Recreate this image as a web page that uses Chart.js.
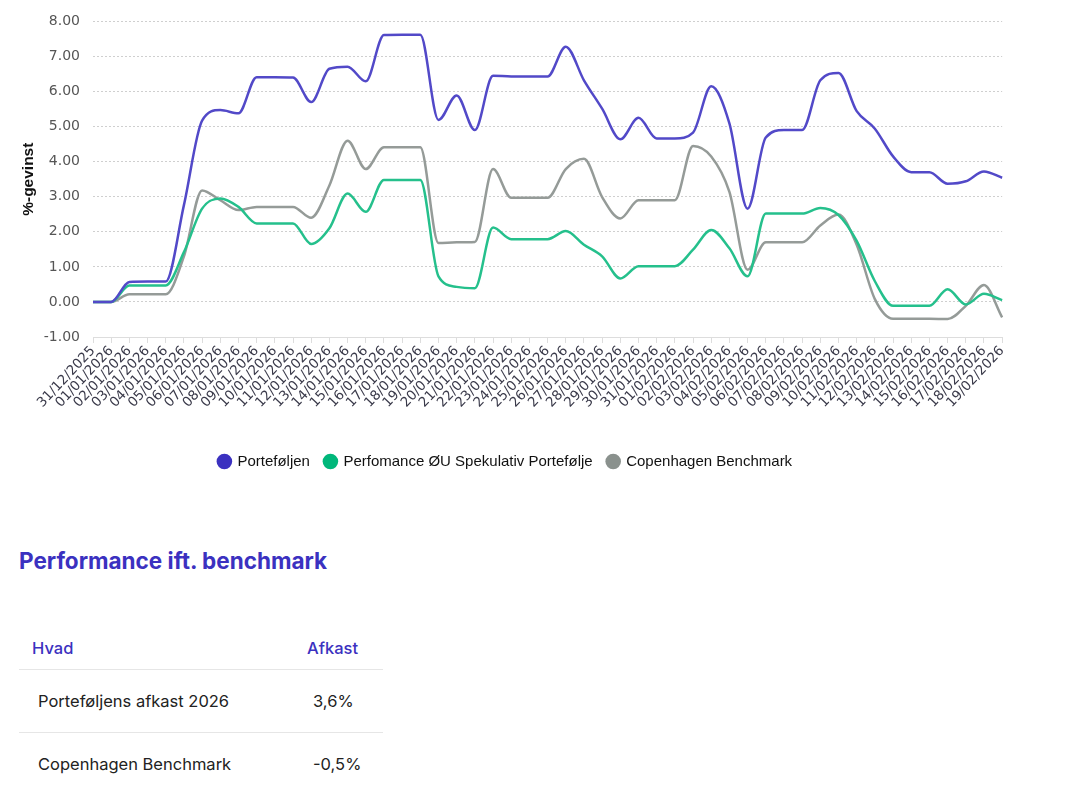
<!DOCTYPE html>
<html>
<head>
<meta charset="utf-8">
<script src="https://cdn.jsdelivr.net/npm/chart.js@4/dist/chart.umd.min.js"></script>
<style>
  html, body { margin: 0; padding: 0; background: #fff; }
  #wrap { position: absolute; left: 0; top: 0; width: 1014px; height: 490px; }
  #title { position: absolute; left: 19px; top: 547px; font-family: Inter, sans-serif; font-weight: 700; font-size: 22.5px; color: #3b31c0; margin: 0; }
  table { position: absolute; left: 19px; top: 627px; width: 364px; border-collapse: collapse; font-family: Inter, sans-serif; table-layout: fixed; }
  col.a { width: 275px; }
  col.b { width: 89px; }
  th { font-weight: 500; color: #3b31c0; font-size: 16.5px; height: 42px; text-align: left; padding: 0 0 0 13px; border-bottom: 1px solid #e6e6e6; }
  td { font-size: 16.5px; color: #222; height: 62px; padding: 0 0 0 19px; border-bottom: 1px solid #e6e6e6; }
  tr:last-child td { border-bottom: none; }
</style>
</head>
<body>
<div id="wrap"><canvas id="c"></canvas></div>
<h2 id="title">Performance ift. benchmark</h2>
<table>
  <colgroup><col class="a"><col class="b"></colgroup>
  <tr><th>Hvad</th><th>Afkast</th></tr>
  <tr><td>Porteføljens afkast 2026</td><td>3,6%</td></tr>
  <tr><td>Copenhagen Benchmark</td><td>-0,5%</td></tr>
</table>
<script>
const labels = ["31/12/2025","01/01/2026","02/01/2026","03/01/2026","04/01/2026","05/01/2026","06/01/2026","07/01/2026","08/01/2026","09/01/2026","10/01/2026","11/01/2026","12/01/2026","13/01/2026","14/01/2026","15/01/2026","16/01/2026","17/01/2026","18/01/2026","19/01/2026","20/01/2026","21/01/2026","22/01/2026","23/01/2026","24/01/2026","25/01/2026","26/01/2026","27/01/2026","28/01/2026","29/01/2026","30/01/2026","31/01/2026","01/02/2026","02/02/2026","03/02/2026","04/02/2026","05/02/2026","06/02/2026","07/02/2026","08/02/2026","09/02/2026","10/02/2026","11/02/2026","12/02/2026","13/02/2026","14/02/2026","15/02/2026","16/02/2026","17/02/2026","18/02/2026","19/02/2026"];

const portefoljen = [0,0,0.57,0.58,0.58,2.76,5.17,5.47,5.38,6.41,6.41,6.40,5.70,6.65,6.71,6.29,7.61,7.62,7.62,5.19,5.89,4.90,6.45,6.43,6.43,6.43,7.28,6.32,5.51,4.64,5.25,4.66,4.66,4.83,6.15,5.09,2.66,4.69,4.90,4.90,6.32,6.53,5.44,4.94,4.15,3.70,3.70,3.37,3.44,3.72,3.54];

const oeu = [0,0,0.47,0.47,0.47,1.42,2.66,2.95,2.71,2.24,2.24,2.24,1.65,2.10,3.09,2.57,3.48,3.48,3.48,0.73,0.43,0.39,2.12,1.79,1.79,1.79,2.02,1.63,1.30,0.67,1.02,1.02,1.02,1.49,2.05,1.53,0.73,2.52,2.52,2.52,2.68,2.48,1.74,0.59,-0.11,-0.11,-0.11,0.36,-0.07,0.23,0.05];

const benchmark = [0,0,0.22,0.22,0.22,1.30,3.18,2.90,2.62,2.71,2.71,2.71,2.40,3.32,4.60,3.79,4.41,4.41,4.41,1.68,1.70,1.71,3.79,2.97,2.97,2.97,3.79,4.08,2.99,2.38,2.90,2.90,2.90,4.45,4.15,3.14,0.92,1.70,1.70,1.70,2.18,2.49,1.63,0.08,-0.48,-0.48,-0.48,-0.49,-0.11,0.48,-0.44];

const yTicks = [-1,0,1,2,3,4,5,6,7,8];
const legendColors = ['#3b31c0', '#00b77a', '#8a918d'];

new Chart(document.getElementById('c'), {
  type: 'line',
  data: {
    labels: labels,
    datasets: [
      { label: 'Porteføljen', data: portefoljen, borderColor: '#5249c8', backgroundColor: '#3b31c0', borderWidth: 2.5, pointRadius: 0, cubicInterpolationMode: 'monotone' },
      { label: 'Perfomance ØU Spekulativ Portefølje', data: oeu, borderColor: '#25c08c', backgroundColor: '#00b77a', borderWidth: 2.5, pointRadius: 0, cubicInterpolationMode: 'monotone' },
      { label: 'Copenhagen Benchmark', data: benchmark, borderColor: '#959b98', backgroundColor: '#8a918d', borderWidth: 2.5, pointRadius: 0, cubicInterpolationMode: 'monotone' }
    ]
  },
  options: {
    responsive: true,
    maintainAspectRatio: false,
    animation: false,
    layout: { padding: { top: 4, right: 3, left: 0, bottom: 11 } },
    plugins: {
      legend: {
        position: 'bottom',
        labels: {
          usePointStyle: true,
          pointStyle: 'circle',
          boxWidth: 11,
          boxHeight: 11,
          padding: 15,
          color: '#111',
          font: { family: "'Liberation Sans', Arial, sans-serif", size: 15 },
          generateLabels: (chart) => {
            const items = Chart.defaults.plugins.legend.labels.generateLabels(chart);
            items.forEach((it, i) => { it.fillStyle = legendColors[i]; it.strokeStyle = legendColors[i]; it.lineWidth = 0; });
            return items;
          }
        }
      },
      tooltip: { enabled: false }
    },
    scales: {
      x: {
        afterFit: (scale) => { scale.height = 102; },
        grid: { drawOnChartArea: false, drawTicks: true, tickLength: 6, color: '#dddddd' },
        border: { display: true, color: '#dddddd' },
        ticks: { autoSkip: false, maxRotation: 47, minRotation: 47, color: '#3a3a4a', font: { family: "'DejaVu Sans', sans-serif", size: 13.5 }, padding: 0 }
      },
      y: {
        min: -1,
        max: 8,
        afterFit: (scale) => { scale.width = 93; },
        afterBuildTicks: (axis) => { axis.ticks = yTicks.map(v => ({ value: v })); },
        title: { display: true, text: '%-gevinst', color: '#111', font: { family: "'Liberation Sans', Arial, sans-serif", size: 15.5, weight: 'bold' }, padding: { top: 19, bottom: 4 } },
        grid: { color: '#cfcfcf', drawTicks: false },
        border: { display: false, dash: [2, 2] },
        ticks: { color: '#555', font: { family: "'DejaVu Sans', sans-serif", size: 14 }, padding: 13, callback: (v) => Number(v).toFixed(2) }
      }
    }
  }
});
</script>
</body>
</html>
